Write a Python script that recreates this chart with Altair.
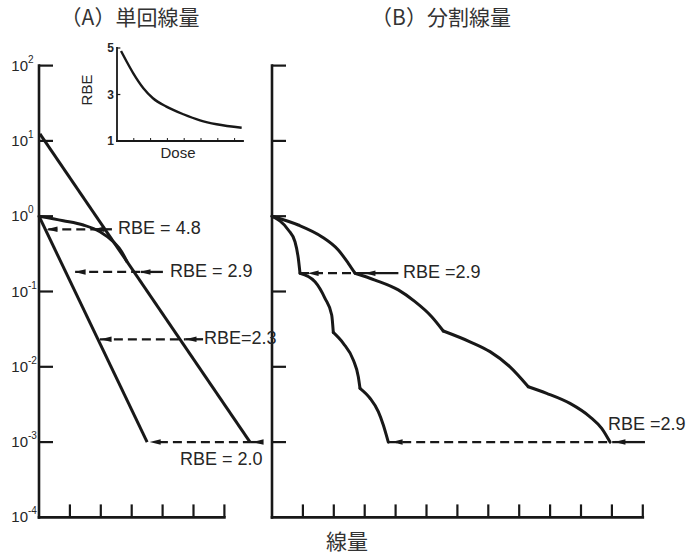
import altair as alt
import pandas as pd

# ---------------- data ----------------
# dose is in x-tick units, SF = surviving fraction (log axis)
A_NEUTRON_DOSE = [0.0, 3.50]
A_NEUTRON_SF = [1.0, 1.0e-3]
A_XRAY_LINE_DOSE = [0.03, 6.83]
A_XRAY_LINE_SF = [12.4, 1.0e-3]
A_XRAY_SHOULDER_DOSE = [0.0, 0.786, 1.434, 1.974, 2.405, 2.676, 2.84]
A_XRAY_SHOULDER_SF = [1.0, 0.871, 0.764, 0.622, 0.458, 0.338, 0.252]

B_XRAY_DOSE = [0.0, 0.851, 1.608, 2.145, 2.469, 2.686, 3.333, 4.087, 4.628, 5.168, 5.544,
               6.408, 7.055, 7.702, 8.294, 8.890, 9.644, 10.29, 10.67, 10.94]
B_XRAY_SF = [1.0, 0.764, 0.535, 0.356, 0.237, 0.175, 0.142, 0.105, 0.0733, 0.0463, 0.0299,
             0.0215, 0.0159, 0.0100, 0.00544, 0.00445, 0.00327, 0.00217, 0.00152, 0.001]
B_XRAY_KINKS = [5, 10, 14]          # indices where a new fraction starts
B_NEUTRON_DOSE = [0.0, 0.528, 0.744, 0.851, 0.906, 1.392, 1.715, 1.932, 1.984, 2.307, 2.631,
                  2.793, 2.848, 3.172, 3.440, 3.602, 3.764]
B_NEUTRON_SF = [1.0, 0.656, 0.458, 0.276, 0.175, 0.135, 0.0813, 0.0488, 0.0286, 0.0205, 0.0123,
                0.00739, 0.00518, 0.00382, 0.00254, 0.00169, 0.001]
B_NEUTRON_KINKS = [4, 8, 12]

# RBE arrows
ARROW_PANEL = ["A", "A", "A", "A", "B", "B"]
ARROW_LABEL = ["RBE = 4.8", "RBE = 2.9", "RBE=2.3", "RBE = 2.0", "RBE =2.9", "RBE =2.9"]
ARROW_SF = [0.670, 0.182, 0.0232, 1.0e-3, 0.175, 1.0e-3]
DASH_START = [0.30, 1.17, 1.97, 3.88, 0.906, 3.76]
DASH_END = [1.78, 3.30, 4.73, 6.83, 3.01, 11.10]
SOLID_END = [2.36, 4.01, 5.31, 7.25, 4.09, 12.07]
HEAD_LEFT = [0.42, 1.33, 2.17, 3.76, 1.33, 4.05]
HEAD_RIGHT = [1.94, 3.43, 4.92, 7.09, 3.17, 11.26]
LABEL_X = [2.56, 4.24, 5.34, 4.56, 4.24, 10.87]
LABEL_SF = [0.670, 0.182, 0.0232, 5.87e-4, 0.175, 1.69e-3]

# axes
Y_TICK_DECADES = [1e2, 1e1, 1e0, 1e-1, 1e-2, 1e-3]
Y_LABEL_VALUES = [1e2, 1e1, 1e0, 1e-1, 1e-2, 1e-3, 1e-4]
Y_LABEL_EXP = ["2", "1", "0", "-1", "-2", "-3", "-4"]
A_X_TICKS = [1, 2, 3, 4, 5, 6]
B_X_TICKS = [1, 2, 3, 4, 5, 6, 7, 8, 9, 10, 11, 12]
X_AXIS_END = {"A": 6, "B": 12}
Y_AXIS_TOP = 1e2
Y_AXIS_BOTTOM = 1e-4

# inset (RBE vs dose)
INSET_DOSE = [0.24, 0.58, 0.97, 1.57, 2.14, 2.94, 3.95, 4.94, 5.93, 7.42]
INSET_RBE = [4.87, 4.41, 3.91, 3.27, 2.84, 2.48, 2.15, 1.89, 1.72, 1.57]
INSET_Y_LABELS = ["5", "3", "1"]
INSET_Y_VALUES = [5, 3, 1]
INSET_X_TICKS = [1, 2, 3, 4, 5, 6, 7]
INSET_X_MAX = 7.5

# ---------------- layout / style ----------------
W, H = 688, 555
PX_PER_UNIT = 30.9
A_ORIGIN_PX = 39
B_ORIGIN_PX = 272
PX_PER_DECADE = 75.3
Y_PX_AT_TENTH = 291.5
OFF = {"A": 0.0, "B": (B_ORIGIN_PX - A_ORIGIN_PX) / PX_PER_UNIT}
X_DOMAIN = [-A_ORIGIN_PX / PX_PER_UNIT, (W - A_ORIGIN_PX) / PX_PER_UNIT]
Y_DOMAIN = [10 ** (-1 - (H - Y_PX_AT_TENTH) / PX_PER_DECADE),
            10 ** (-1 + Y_PX_AT_TENTH / PX_PER_DECADE)]
TICK_U = 14 / PX_PER_UNIT
XTICK_FACTOR = 10 ** (13 / PX_PER_DECADE)
INK = "#181818"
TXT = "#262626"
HEAD = "M-1,0L1,-0.5L1,0.5Z"
CURVE_W = 3.0

xs = alt.Scale(domain=X_DOMAIN, nice=False, zero=False)
ys = alt.Scale(type="log", domain=Y_DOMAIN, nice=False)


def X(f):
    return alt.X(f + ":Q", scale=xs, axis=None)


def Y(f):
    return alt.Y(f + ":Q", scale=ys, axis=None)


# curve tables: straight lines and smooth (monotone) segments
straight_rows = []
for name, panel, dd, ss in [
    ("a_neutron", "A", A_NEUTRON_DOSE, A_NEUTRON_SF),
    ("a_xline", "A", A_XRAY_LINE_DOSE, A_XRAY_LINE_SF),
]:
    for i, (d, s) in enumerate(zip(dd, ss)):
        straight_rows.append({"series": name, "i": i, "gx": d + OFF[panel], "sf": s})
straight = pd.DataFrame(straight_rows)

smooth_rows = []
for name, panel, dd, ss, kinks in [
    ("a_xshoulder", "A", A_XRAY_SHOULDER_DOSE, A_XRAY_SHOULDER_SF, []),
    ("b_xray", "B", B_XRAY_DOSE, B_XRAY_SF, B_XRAY_KINKS),
    ("b_neutron", "B", B_NEUTRON_DOSE, B_NEUTRON_SF, B_NEUTRON_KINKS),
]:
    bounds = [0] + kinks + [len(dd) - 1]
    for k in range(len(bounds) - 1):
        for i in range(bounds[k], bounds[k + 1] + 1):
            smooth_rows.append({"series": f"{name}_{k}", "i": i,
                                "gx": dd[i] + OFF[panel], "sf": ss[i]})
smooth = pd.DataFrame(smooth_rows)

arr = pd.DataFrame({
    "panel": ARROW_PANEL, "label": ARROW_LABEL, "sf": ARROW_SF,
    "d0": DASH_START, "d1": DASH_END, "s1": SOLID_END,
    "hl": HEAD_LEFT, "hr": HEAD_RIGHT, "lx": LABEL_X, "lsf": LABEL_SF,
})
off = arr["panel"].map(OFF)
dash = pd.DataFrame({"gx": arr["d0"] + off, "gx2": arr["d1"] + off, "sf": arr["sf"]})
solid = pd.DataFrame({"gx": arr["d1"] + off, "gx2": arr["s1"] + off, "sf": arr["sf"]})
heads = pd.DataFrame({"gx": list(arr["hl"] + off) + list(arr["hr"] + off),
                      "sf": list(arr["sf"]) * 2})
labels = pd.DataFrame({"gx": arr["lx"] + off, "sf": arr["lsf"], "label": arr["label"]})

yaxis = pd.DataFrame({"gx": [OFF["A"], OFF["B"]], "sf": [Y_AXIS_TOP] * 2, "sf2": [Y_AXIS_BOTTOM] * 2})
xaxis = pd.DataFrame({"gx": [OFF["A"], OFF["B"]],
                      "gx2": [OFF["A"] + X_AXIS_END["A"], OFF["B"] + X_AXIS_END["B"]],
                      "sf": [Y_AXIS_BOTTOM] * 2})
yt = []
for p in ["A", "B"]:
    for d in Y_TICK_DECADES:
        yt.append({"gx": OFF[p], "gx2": OFF[p] + TICK_U, "sf": d})
yticks = pd.DataFrame(yt)
xt = []
for p, ticks in [("A", A_X_TICKS), ("B", B_X_TICKS)]:
    for k in ticks:
        xt.append({"gx": OFF[p] + k, "sf": Y_AXIS_BOTTOM, "sf2": Y_AXIS_BOTTOM * XTICK_FACTOR})
xticks = pd.DataFrame(xt)
ylab = pd.DataFrame({"v": Y_LABEL_VALUES, "base": ["10"] * len(Y_LABEL_VALUES), "exp": Y_LABEL_EXP})

one = pd.DataFrame({"a": [0]})

main_layers = [
    alt.Chart(yaxis).mark_rule(color=INK, strokeWidth=2.6, strokeCap="square").encode(
        x=X("gx"), y=Y("sf"), y2=alt.Y2("sf2:Q")),
    alt.Chart(xaxis).mark_rule(color=INK, strokeWidth=2.6, strokeCap="square").encode(
        x=X("gx"), x2=alt.X2("gx2:Q"), y=Y("sf")),
    alt.Chart(yticks).mark_rule(color=INK, strokeWidth=2.2).encode(
        x=X("gx"), x2=alt.X2("gx2:Q"), y=Y("sf")),
    alt.Chart(xticks).mark_rule(color=INK, strokeWidth=2.2).encode(
        x=X("gx"), y=Y("sf"), y2=alt.Y2("sf2:Q")),
    alt.Chart(ylab).mark_text(align="right", baseline="middle", font="Liberation Sans",
                              fontSize=15, color=TXT).encode(
        x=alt.value(28), y=Y("v"), text="base:N"),
    alt.Chart(ylab).mark_text(align="left", baseline="middle", font="Liberation Sans",
                              fontSize=10, color=TXT, dy=-6).encode(
        x=alt.value(28), y=Y("v"), text="exp:N"),
    alt.Chart(straight).mark_line(color=INK, strokeWidth=CURVE_W, strokeJoin="round").encode(
        x=X("gx"), y=Y("sf"), detail="series:N", order="i:Q"),
    alt.Chart(smooth).mark_line(color=INK, strokeWidth=CURVE_W, strokeJoin="round",
                                strokeCap="round", interpolate="monotone").encode(
        x=X("gx"), y=Y("sf"), detail="series:N", order="i:Q"),
    alt.Chart(dash).mark_rule(color=INK, strokeWidth=2.3, strokeDash=[9, 5]).encode(
        x=X("gx"), x2=alt.X2("gx2:Q"), y=Y("sf")),
    alt.Chart(solid).mark_rule(color=INK, strokeWidth=2.3).encode(
        x=X("gx"), x2=alt.X2("gx2:Q"), y=Y("sf")),
    alt.Chart(heads).mark_point(shape=HEAD, size=121, filled=True, color=INK, opacity=1).encode(
        x=X("gx"), y=Y("sf")),
    alt.Chart(labels).mark_text(align="left", baseline="middle", font="Liberation Sans",
                                fontSize=18, color=TXT).encode(
        x=X("gx"), y=Y("sf"), text="label:N"),
    alt.Chart(one).mark_text(font="Noto Sans CJK JP", fontSize=21, color="#333",
                             baseline="middle").encode(
        x=alt.value(130), y=alt.value(19), text=alt.value("（A）単回線量")),
    alt.Chart(one).mark_text(font="Noto Sans CJK JP", fontSize=21, color="#333",
                             baseline="middle").encode(
        x=alt.value(441), y=alt.value(19), text=alt.value("（B）分割線量")),
    alt.Chart(one).mark_text(font="Noto Sans CJK JP", fontSize=21, color="#333",
                             baseline="middle").encode(
        x=alt.value(347), y=alt.value(543), text=alt.value("線量")),
    alt.Chart(one).mark_text(font="Liberation Sans", fontSize=15, color=TXT, angle=270,
                             baseline="middle").encode(
        x=alt.value(87), y=alt.value(90), text=alt.value("RBE")),
    alt.Chart(one).mark_text(font="Liberation Sans", fontSize=15, color=TXT,
                             baseline="middle").encode(
        x=alt.value(178), y=alt.value(153), text=alt.value("Dose")),
]

xi = alt.Scale(domain=[0, INSET_X_MAX], range=[117, 243], nice=False, zero=False)
yi = alt.Scale(domain=[1, 5], range=[141, 48], nice=False, zero=False)


def XI(f):
    return alt.X(f + ":Q", scale=xi, axis=None)


def YI(f):
    return alt.Y(f + ":Q", scale=yi, axis=None)


inset_curve = pd.DataFrame({"dose": INSET_DOSE, "rbe": INSET_RBE})
inset_axes = pd.DataFrame({"dose": [0, 0], "dose2": [0, INSET_X_MAX],
                           "rbe": [1, 1], "rbe2": [5, 1]})
inset_xt = pd.DataFrame({"dose": INSET_X_TICKS, "rbe": [1] * len(INSET_X_TICKS),
                         "rbe2": [1 + 3 / 23.25] * len(INSET_X_TICKS)})
inset_yl = pd.DataFrame({"rbe": INSET_Y_VALUES, "t": INSET_Y_LABELS,
                         "dose": [0] * 3, "dose2": [0.2] * 3})

inset_layers = [
    alt.Chart(inset_axes).mark_rule(color=INK, strokeWidth=1.8, strokeCap="square").encode(
        x=XI("dose"), x2=alt.X2("dose2:Q"), y=YI("rbe"), y2=alt.Y2("rbe2:Q")),
    alt.Chart(inset_xt).mark_rule(color=INK, strokeWidth=1.0).encode(
        x=XI("dose"), y=YI("rbe"), y2=alt.Y2("rbe2:Q")),
    alt.Chart(inset_yl).mark_rule(color=INK, strokeWidth=1.2).encode(
        x=XI("dose"), x2=alt.X2("dose2:Q"), y=YI("rbe")),
    alt.Chart(inset_yl).mark_text(align="right", baseline="middle", font="Liberation Sans",
                                  fontSize=12, fontWeight="bold", color=TXT, dx=-3).encode(
        x=XI("dose"), y=YI("rbe"), text="t:N"),
    alt.Chart(inset_curve).mark_line(color=INK, strokeWidth=2.4, interpolate="monotone").encode(
        x=XI("dose"), y=YI("rbe")),
]

chart = (
    alt.layer(alt.layer(*main_layers), alt.layer(*inset_layers))
    .resolve_scale(x="independent", y="independent")
    .properties(width=W, height=H, padding=0, autosize=alt.AutoSizeParams(type="none"))
    .configure_view(strokeWidth=0)
)

chart.save("out.html", embed_options={"renderer": "svg", "actions": False})
